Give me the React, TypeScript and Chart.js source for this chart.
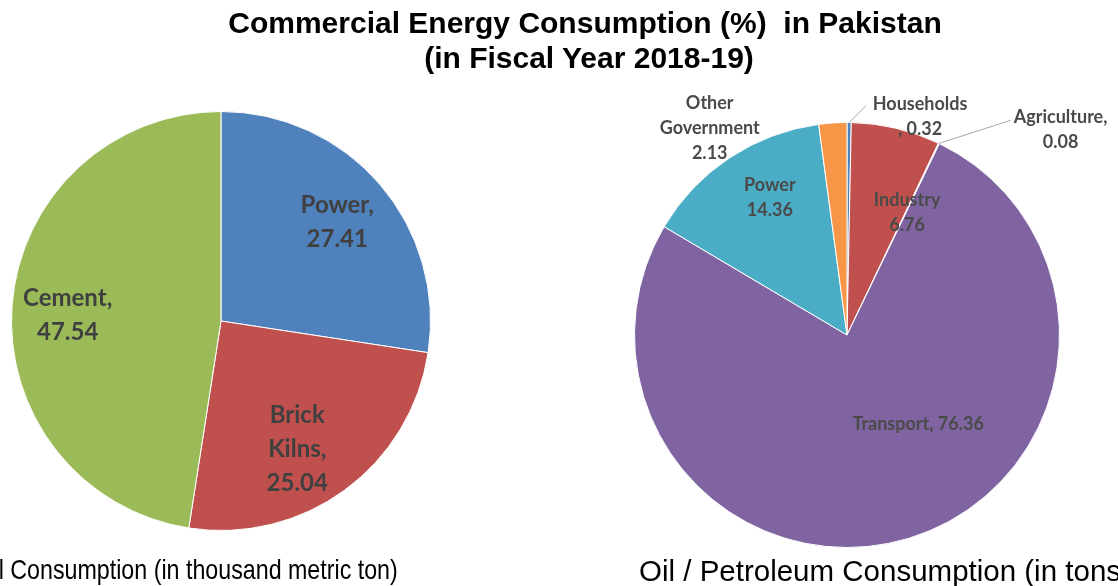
import React, { useEffect, useRef } from "react";
import { Chart, registerables } from "chart.js";

Chart.register(...registerables);

// ---------- DATA ----------
const coalCategories = ["Power", "Brick Kilns", "Cement"];
const coalValues = [27.41, 25.04, 47.54];

const oilCategories = ["Households", "Industry", "Agriculture", "Transport", "Power", "Other Government"];
const oilValues = [0.32, 6.76, 0.08, 76.36, 14.36, 2.13];

const titleLines = ["Commercial Energy Consumption (%)  in Pakistan", "(in Fiscal Year 2018-19)"];
const coalCaption = "Coal Consumption (in thousand metric ton)";
const oilCaption = "Oil / Petroleum Consumption (in tons)";

// ---------- STYLE ----------
const W = 1118;
const H = 586;
const coalColors = ["#4F81BD", "#C0504D", "#9BBB59"];
const oilColors = ["#4F81BD", "#C0504D", "#9BBB59", "#8064A2", "#4BACC6", "#F79646"];

type Fmt = (n: string, v: string) => string[];

const coalFormats: Fmt[] = [
  (n, v) => [n + ",", v],
  (n, v) => [...n.split(" ").map((s, i, a) => (i === a.length - 1 ? s + "," : s)), v],
  (n, v) => [n + ",", v],
];
const oilFormats: Fmt[] = [
  (n, v) => [n, ", " + v],
  (n, v) => [n, v],
  (n, v) => [n + ",", v],
  (n, v) => [n + ", " + v],
  (n, v) => [n, v],
  (n, v) => [...n.split(" "), v],
];

// label block centres relative to pie centre, in radius units; optional leader end
type Place = { p: [number, number]; leader?: [number, number] };
const coalPlaces: Place[] = [
  { p: [0.555, -0.471] },
  { p: [0.364, 0.61] },
  { p: [-0.732, -0.029] },
];
const oilPlaces: Place[] = [
  { p: [0.344, -1.028], leader: [0.09, -1.08] },
  { p: [0.283, -0.575] },
  { p: [1.005, -0.967], leader: [0.769, -1.01] },
  { p: [0.335, 0.42] },
  { p: [-0.363, -0.646] },
  { p: [-0.646, -0.972] },
];

function labelPlugin(
  cats: string[],
  vals: number[],
  fmts: Fmt[],
  places: Place[],
  font: string,
  lineH: number,
  color: string
) {
  return {
    id: "sliceLabels",
    afterDatasetsDraw(chart: any) {
      const meta = chart.getDatasetMeta(0);
      const ctx = chart.ctx as CanvasRenderingContext2D;
      ctx.save();
      meta.data.forEach((arc: any, i: number) => {
        const { x, y, outerRadius, startAngle, endAngle } = arc.getProps(
          ["x", "y", "outerRadius", "startAngle", "endAngle"],
          true
        );
        const pl = places[i];
        const lx = x + pl.p[0] * outerRadius;
        const ly = y + pl.p[1] * outerRadius;
        if (pl.leader) {
          const mid = (startAngle + endAngle) / 2;
          ctx.beginPath();
          ctx.strokeStyle = "#A6A6A6";
          ctx.lineWidth = 1;
          ctx.moveTo(x + Math.cos(mid) * outerRadius, y + Math.sin(mid) * outerRadius);
          ctx.lineTo(x + pl.leader[0] * outerRadius, y + pl.leader[1] * outerRadius);
          ctx.stroke();
        }
        const lines = fmts[i](cats[i], vals[i].toFixed(2));
        ctx.font = font;
        ctx.fillStyle = color;
        ctx.textAlign = "center";
        ctx.textBaseline = "middle";
        const top = ly - ((lines.length - 1) * lineH) / 2;
        lines.forEach((t, k) => ctx.fillText(t, lx, top + k * lineH));
      });
      ctx.restore();
    },
  };
}

function PieCanvas(props: {
  cats: string[];
  vals: number[];
  colors: string[];
  cx: number;
  cy: number;
  r: number;
  plugin: any;
}) {
  const ref = useRef<HTMLCanvasElement | null>(null);
  useEffect(() => {
    if (!ref.current) return;
    const { cx, cy, r } = props;
    const chart = new Chart(ref.current, {
      type: "pie",
      data: {
        labels: props.cats,
        datasets: [
          {
            data: props.vals,
            backgroundColor: props.colors,
            borderColor: "#ffffff",
            borderWidth: 1,
          },
        ],
      },
      options: {
        responsive: false,
        animation: false,
        devicePixelRatio: 1,
        layout: {
          padding: { left: cx - r, top: cy - r, right: W - (cx + r), bottom: H - (cy + r) },
        },
        plugins: {
          legend: { display: false },
          tooltip: { enabled: false },
          title: { display: false },
        },
      },
      plugins: [props.plugin],
    });
    return () => chart.destroy();
  }, []);
  return (
    <canvas
      ref={ref}
      width={W}
      height={H}
      style={{ position: "absolute", left: 0, top: 0, width: W, height: H }}
    />
  );
}

export default function App() {
  const coalPlugin = labelPlugin(
    coalCategories,
    coalValues,
    coalFormats,
    coalPlaces,
    "bold 24px Lato",
    34,
    "#404040"
  );
  const oilPlugin = labelPlugin(
    oilCategories,
    oilValues,
    oilFormats,
    oilPlaces,
    "bold 18px Lato",
    25,
    "#4a4a4a"
  );
  const sans = "'Liberation Sans', Arial, sans-serif";
  return (
    <div
      style={{
        position: "fixed",
        left: 0,
        top: 0,
        width: W,
        height: H,
        overflow: "hidden",
        background: "#ffffff",
      }}
    >
      <PieCanvas cats={coalCategories} vals={coalValues} colors={coalColors} cx={221} cy={321} r={210} plugin={coalPlugin} />
      <PieCanvas cats={oilCategories} vals={oilValues} colors={oilColors} cx={847} cy={335} r={213} plugin={oilPlugin} />
      {titleLines.map((t, i) => (
        <div
          key={i}
          style={{
            position: "absolute",
            left: (i === 0 ? 585 : 589) - 400,
            width: 800,
            top: i === 0 ? 8 : 43,
            textAlign: "center",
            fontFamily: sans,
            fontWeight: "bold",
            fontSize: 30,
            lineHeight: "30px",
            color: "#000",
            whiteSpace: "pre",
          }}
        >
          {t}
        </div>
      ))}
      <div
        style={{
          position: "absolute",
          left: -44,
          top: 556,
          fontFamily: sans,
          fontSize: 28,
          lineHeight: "28px",
          color: "#000",
          whiteSpace: "pre",
          transform: "scaleX(0.83)",
          transformOrigin: "0 0",
        }}
      >
        {coalCaption}
      </div>
      <div
        style={{
          position: "absolute",
          left: 639,
          top: 556,
          fontFamily: sans,
          fontSize: 29.5,
          lineHeight: "29px",
          color: "#000",
          whiteSpace: "pre",
        }}
      >
        {oilCaption}
      </div>
    </div>
  );
}
